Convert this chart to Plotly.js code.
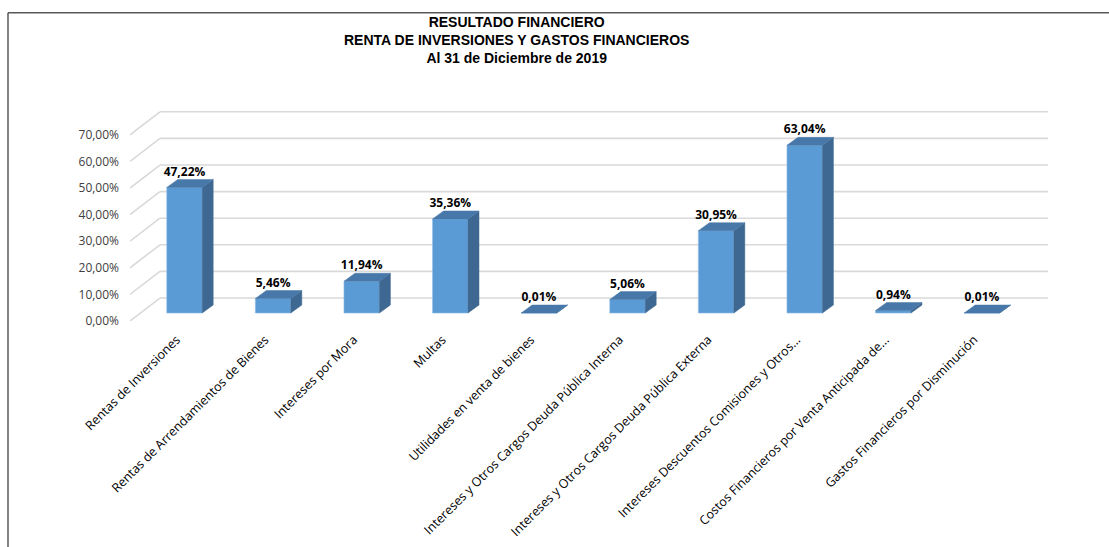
<!DOCTYPE html>
<html>
<head>
<meta charset="utf-8">
<script src="https://cdn.plot.ly/plotly-3.0.1.min.js"></script>
<style>html,body{margin:0;padding:0;background:#fff;}#chart{width:1109px;height:547px;}</style>
</head>
<body>
<div id="chart"></div>
<script>
// ---- data ----
const categories = [
  "Rentas de Inversiones",
  "Rentas de Arrendamientos de Bienes",
  "Intereses por Mora",
  "Multas",
  "Utilidades en venta de bienes",
  "Intereses y Otros Cargos Deuda Pública Interna",
  "Intereses y Otros Cargos Deuda Pública Externa",
  "Intereses Descuentos Comisiones y Otros...",
  "Costos Financieros por Venta Anticipada de...",
  "Gastos Financieros por Disminución"
];
const values = [47.22, 5.46, 11.94, 35.36, 0.01, 5.06, 30.95, 63.04, 0.94, 0.01];
const valueLabels = ["47,22%", "5,46%", "11,94%", "35,36%", "0,01%", "5,06%", "30,95%", "63,04%", "0,94%", "0,01%"];
const yTicks = [0, 10, 20, 30, 40, 50, 60, 70];
const yTickLabels = ["0,00%", "10,00%", "20,00%", "30,00%", "40,00%", "50,00%", "60,00%", "70,00%"];

// ---- 3D pseudo-perspective helpers ----
const xs = categories.map((_, i) => i);
const halfW = 0.2;     // half width of front face (category units)
const depthX = 0.124;  // depth offset in x (category units)
const depthY = 3.0;    // depth offset in y (value units)
const frontShift = -3.0; // front floor plane relative to bar plane
const backShift = 5.64;  // back wall relative to bar plane
const xFront = -0.615, xBack = -0.277, xRight = 9.746;

const sideX = [], sideY = [];
const topX = [], topY = [];
xs.forEach((x, i) => {
  const v = values[i];
  sideX.push(x + halfW, x + halfW + depthX, x + halfW + depthX, x + halfW, x + halfW, null);
  sideY.push(0, depthY, v + depthY, v, 0, null);
  topX.push(x - halfW, x + halfW, x + halfW + depthX, x - halfW + depthX, x - halfW, null);
  topY.push(v, v, v + depthY, v + depthY, v, null);
});

const traces = [
  {
    type: 'bar', x: xs, y: values, width: 2 * halfW,
    marker: {color: '#5B9BD5', line: {color: '#8DBBE5', width: 0.6}},
    hoverinfo: 'skip', showlegend: false
  },
  {
    type: 'scatter', mode: 'lines', x: sideX, y: sideY, fill: 'toself',
    fillcolor: '#3E6891', line: {color: '#3E6891', width: 0.5},
    hoverinfo: 'skip', showlegend: false
  },
  {
    type: 'scatter', mode: 'lines', x: topX, y: topY, fill: 'toself',
    fillcolor: '#4878A9', line: {color: '#4878A9', width: 0.5},
    hoverinfo: 'skip', showlegend: false
  },
  {
    type: 'scatter', mode: 'text', x: xs, y: values.map(v => v + 5.6),
    text: valueLabels, textposition: 'middle center',
    textfont: {family: 'Open Sans', size: 12, color: '#000', weight: 'bold'},
    hoverinfo: 'skip', showlegend: false, cliponaxis: false
  }
];

const shapes = [];
yTicks.forEach(t => {
  shapes.push({type: 'line', layer: 'below', xref: 'x', yref: 'y',
    x0: xBack, x1: xRight, y0: t + backShift, y1: t + backShift,
    line: {color: '#D9D9D9', width: 1.6}});
  shapes.push({type: 'line', layer: 'below', xref: 'x', yref: 'y',
    x0: xFront, x1: xBack, y0: t + frontShift, y1: t + backShift,
    line: {color: '#D9D9D9', width: 1.6}});
});
// outer frame (left and top edges)
shapes.push({type: 'line', xref: 'paper', yref: 'paper', x0: -0.1329, x1: -0.1329, y0: 1.427, y1: -1.2,
  line: {color: '#595959', width: 1.5}});
shapes.push({type: 'line', xref: 'paper', yref: 'paper', x0: -0.1329, x1: 1.2, y0: 1.427, y1: 1.427,
  line: {color: '#595959', width: 1.5}});

const layout = {
  width: 1109, height: 547,
  margin: {l: 130, r: 61, t: 105, b: 226},
  paper_bgcolor: '#ffffff', plot_bgcolor: 'rgba(0,0,0,0)',
  showlegend: false,
  xaxis: {
    range: [xFront, xRight], tickmode: 'array', tickvals: xs, ticktext: categories,
    tickangle: -45, showgrid: false, zeroline: false, showline: false, ticks: '',
    ticklabelstandoff: 8, ticklabelshift: -8,
    tickfont: {family: 'Open Sans', size: 12.5, color: '#000'}, fixedrange: true
  },
  yaxis: {
    range: [-3.0, 78.2], tickmode: 'array',
    tickvals: yTicks.map(t => t + frontShift), ticktext: yTickLabels,
    showgrid: false, zeroline: false, showline: false, ticks: '', ticklabelstandoff: 10,
    tickfont: {family: 'Open Sans', size: 12, color: '#404040'}, fixedrange: true
  },
  shapes: shapes,
  annotations: [{
    xref: 'paper', yref: 'paper', x: (516 - 130) / 918, y: (321 - 40) / 216,
    xanchor: 'center', yanchor: 'middle', showarrow: false,
    text: '<b>RESULTADO FINANCIERO<br>RENTA DE INVERSIONES Y GASTOS FINANCIEROS<br>Al 31 de Diciembre de 2019</b>',
    font: {family: 'Liberation Sans', size: 14, color: '#000'}, align: 'center'
  }]
};

Plotly.newPlot('chart', traces, layout, {displayModeBar: false, staticPlot: true});
</script>
</body>
</html>
